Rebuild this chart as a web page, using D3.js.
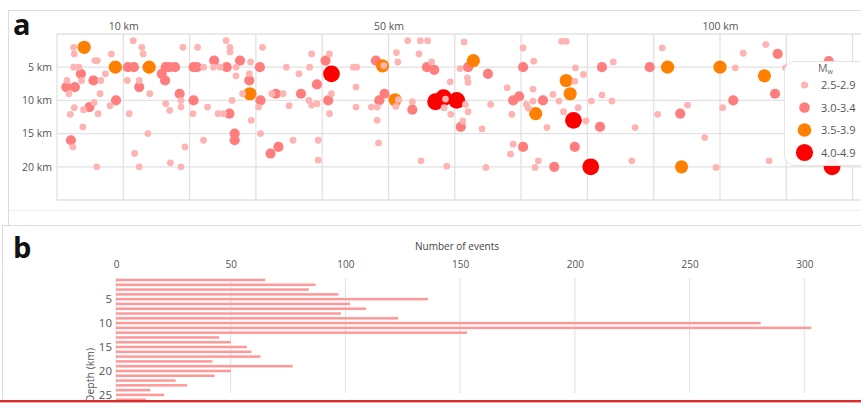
<!DOCTYPE html>
<html><head><meta charset="utf-8">
<script src="https://cdn.jsdelivr.net/npm/d3@7"></script>
<style>
html,body{margin:0;padding:0;background:#fff;overflow:hidden;}
svg{display:block;font-family:"Open Sans",sans-serif;}
</style>
</head><body>
<svg id="c" width="861" height="403"></svg>
<script>
// ---------- Panel a: epicentral distance (km) vs depth (km), by Mw class ----------
const distTicks = [10, 50, 100];
const depthTicksA = [5, 10, 15, 20];
const mwClasses = ["2.5-2.9", "3.0-3.4", "3.5-3.9", "4.0-4.9"];
// [distance km, depth km]
const mw25 = [
 [2.5,2],[2.6,3],[5.7,4],[6.1,4],[8.2,3],[2.5,5],[3.3,5],[1.5,7],[3.7,7],[6.6,7],[7.3,6],[1.8,9],[6.5,9],
 [8.0,10.8],[5.6,10.3],[4.0,11.4],[2.6,11.1],[2.0,12.1],[6.2,12],[3.9,14],[2.4,17],[6.0,20],
 [11.5,1],[12.8,2],[13.0,3],[10.6,7],[12.4,7],[14.0,9],[10.9,12],[13.7,15],[11.7,18],[12.4,20],
 [19.0,2],[18.7,10],[18.7,11],[16.4,10.5],[17.0,11.5],[19.3,17],[17.1,19.4],[18.7,20],[20.5,12],
 [21.2,2],[22.1,5],[22.7,11],[22.1,16],[24.3,12],[25.1,12],[23.6,5],[24.6,5],[25.5,1],[26.1,2],[26.1,2.7],
 [27.0,5],[27.0,6.3],[29.2,4.2],[29.0,6],[28.0,9],[26.4,10],[29.3,13],[30.7,15],[31.0,2],[30.4,11],
 [34.6,5],[32.4,9],[34.1,9],[35.0,10.8],[35.6,16],[36.5,6],[38.1,5],[38.4,3],[38.0,10],[38.4,10.7],
 [39.2,10.5],[39.4,16],[39.4,19],[41.1,12],[41.1,3],[41.4,9],[44.7,5],[45.2,5],[45.1,8],[45.1,11],
 [47.4,11],[48.3,11],[48.3,13],[48.5,16.4],[51.2,2.8],[51.4,4.2],[52.9,1],[54.8,1],[55.9,1],
 [54.6,3],[56.5,4.2],[51.1,10.9],[53.6,10.2],[54.9,19.1],[58.4,11.1],[59.4,12.1],[59.3,7.2],[58.8,19.9],
 [61.4,1.2],[60.8,5.2],[61.9,6.6],[62.0,7.3],[61.6,10.6],[62.0,11.7],[61.2,13.1],[64.1,14.3],[65.4,10.6],
 [64.7,20.1],[70.3,2.1],[71.9,4.1],[67.9,8.1],[70.8,10.6],[71.1,11.2],[71.8,8.3],[71.8,10.1],[68.6,12.1],
 [68.8,16.6],[68.4,18.1],[72.6,19.1],[72.1,20.1],[73.9,14.1],[74.8,9.1],[75.7,10.1],[76.4,11.7],
 [76.1,1.1],[76.8,1.1],[78.2,5.1],[79.4,6.1],[78.1,7.1],[78.6,11.1],[79.8,13.1],[80.6,10.1],[83.9,4.2],
 [82.2,9.2],[83.7,10.1],[87.2,14.1],[86.7,19.1],[91.3,2.1],[90.6,12.1],[95.1,10.7],[97.7,15.6],
 [99.4,20.1],[100.4,11.1],[102.3,5.1],[103.5,2.9],[106.9,1.6],[107.4,19.1],[109.9,5.1],
 [49.3,4.75],[51.5,9.9],[58.6,9.8]
];
const mw30 = [
 [3.6,6],[5.5,7],[1.4,8],[2.7,8],[8.9,10],[4.9,11],[2.1,16],[10.7,5],[11.6,5],[12.4,8],[16.4,5],[17.0,5],
 [17.8,5],[15.8,6],[16.3,7],[18.5,9],[20.6,5],[21.1,5],[20.6,10],[23.7,4],[25.6,5],[27.6,4],[29.0,7],
 [26.0,12],[26.8,15],[26.8,16],[30.6,5],[30.7,10],[32.2,18],[33.4,17],[33.0,9],[36.8,9],[39.2,7.6],
 [40.5,4],[40.9,10],[48.1,4],[49.4,9],[48.6,10],[53.6,11.4],[55.8,5],[56.9,5.4],[62.0,5],[60.9,14],
 [65.0,6],[70.3,5],[68.8,10],[69.7,9.4],[73.3,10],[70.3,17],[75.0,20],[78.1,17],[82.2,5],[81.9,14],
 [89.4,5],[94.0,12],[102.0,10],[108.7,3],[108.3,9],[116.4,4.1]
];
const mw35 = [
 [4.1,2],[8.8,5],[13.9,5],[29.1,9],[49.1,4.8],[51.0,9.9],[62.8,4],[72.2,12],[76.8,7],[77.4,9],
 [92.1,5],[100.0,5],[106.7,6.3],[94.2,20]
];
const mw40 = [
 [41.4,6],[57.1,10.2],[58.3,9.6],[60.3,10],[77.9,13],[80.5,20],[116.9,20]
];

// ---------- Panel b: number of events per 1-km depth bin ----------
const depthBins = [1,2,3,4,5,6,7,8,9,10,11,12,13,14,15,16,17,18,19,20,21,22,23,24,25,26];
const eventCounts = [65,87,84,97,136,102,109,98,123,281,303,153,45,50,57,59,63,42,77,50,43,26,31,15,21,13];
const countTicks = [0,50,100,150,200,250,300];
const depthTicksB = [5,10,15,20,25];

const svg = d3.select("#c");
const textCol = "#555";

// ---------- panel frames ----------
svg.append("rect").attr("x",8.5).attr("y",10.5).attr("width",870).attr("height",215)
  .attr("fill","none").attr("stroke","#dcdcdc");
svg.append("line").attr("x1",9).attr("x2",861).attr("y1",210.5).attr("y2",210.5).attr("stroke","#f0f0f0");
svg.append("rect").attr("x",2.5).attr("y",225.5).attr("width",870).attr("height",200)
  .attr("fill","none").attr("stroke","#dcdcdc");

svg.append("text").attr("x",13).attr("y",35).text("a")
  .attr("font-size",29).attr("font-weight",700).attr("fill","#111");
svg.append("text").attr("x",13).attr("y",258).text("b")
  .attr("font-size",29).attr("font-weight",700).attr("fill","#111");

// ---------- panel a ----------
const xA = d3.scaleLinear().domain([0,120]).range([57,852.6]);
const yA = d3.scaleLinear().domain([0,25]).range([34,200]);
const gA = svg.append("g");
gA.selectAll("line.vg").data(d3.range(0,121,10)).join("line")
  .attr("x1",d=>xA(d)).attr("x2",d=>xA(d)).attr("y1",yA(0)).attr("y2",yA(25))
  .attr("stroke","#e2e2e2").attr("stroke-width",1.3);
gA.selectAll("line.hg").data(d3.range(0,26,5)).join("line")
  .attr("x1",xA(0)).attr("x2",861).attr("y1",d=>yA(d)).attr("y2",d=>yA(d))
  .attr("stroke","#e2e2e2").attr("stroke-width",1.3);

const axTop = d3.axisTop(xA).tickValues(distTicks).tickSize(0).tickPadding(0).tickFormat(d=>d+" km");
gA.append("g").attr("transform","translate(0,30)").call(axTop)
  .call(g=>g.select(".domain").remove())
  .call(g=>g.selectAll("text").attr("fill",textCol).attr("font-size",10.5).attr("font-family","Open Sans"));
const axLeft = d3.axisLeft(yA).tickValues(depthTicksA).tickSize(0).tickPadding(5).tickFormat(d=>d+" km");
gA.append("g").attr("transform","translate(57,0)").call(axLeft)
  .call(g=>g.select(".domain").remove())
  .call(g=>g.selectAll("text").attr("fill",textCol).attr("font-size",10.5).attr("font-family","Open Sans"));

const cls = [
  {data:mw25, r:3.4, c:"#ffb4b4"},
  {data:mw30, r:5.1, c:"#ff7d7d"},
  {data:mw35, r:6.6, c:"#ff8000"},
  {data:mw40, r:8.4, c:"#ff0000"}
];
const drawOrder = [1,2,3,0];
drawOrder.forEach(i=>{
  gA.append("g").selectAll("circle").data(cls[i].data).join("circle")
    .attr("cx",d=>xA(d[0])).attr("cy",d=>yA(d[1])).attr("r",cls[i].r).attr("fill",cls[i].c);
});

// legend
const lg = svg.append("g");
lg.append("rect").attr("x",784.5).attr("y",61.5).attr("width",110).attr("height",104).attr("rx",10)
  .attr("fill","#fff").attr("fill-opacity",0.95).attr("stroke","#e4e4e4");
const lt = lg.append("text").attr("x",818).attr("y",72).attr("fill","#666").attr("font-size",10.5);
lt.append("tspan").text("M");
lt.append("tspan").attr("font-size",7).attr("dy",2).text("w");
const legY = d3.scalePoint().domain(mwClasses).range([85,152.5]);
mwClasses.forEach((m,i)=>{
  lg.append("circle").attr("cx",804.5).attr("cy",legY(m)).attr("r",cls[i].r+0.2).attr("fill",cls[i].c);
  lg.append("text").attr("x",821).attr("y",legY(m)+4).attr("fill",textCol).attr("font-size",11).text(m);
});

// ---------- panel b ----------
const xB = d3.scaleLinear().domain([0,300]).range([116,804.3]);
const yB = d3.scalePoint().domain(depthBins).range([280,399.7]);
const gB = svg.append("g");
gB.selectAll("line.bg").data(countTicks).join("line")
  .attr("x1",d=>xB(d)).attr("x2",d=>xB(d)).attr("y1",278).attr("y2",393)
  .attr("stroke","#e0e0e0").attr("stroke-width",1);
const axB = d3.axisTop(xB).tickValues(countTicks).tickSize(0).tickPadding(0);
gB.append("g").attr("transform","translate(0,268)").call(axB)
  .call(g=>g.select(".domain").remove())
  .call(g=>g.selectAll("text").attr("fill",textCol).attr("font-size",10).attr("font-family","Open Sans"));
gB.append("text").attr("x",457).attr("y",250).attr("text-anchor","middle")
  .attr("fill","#444").attr("font-size",10).text("Number of events");

gB.selectAll("rect.bar").data(depthBins).join("rect")
  .attr("x",xB(0)).attr("y",d=>yB(d)-1.25).attr("height",2.5)
  .attr("width",(d,i)=>xB(eventCounts[i])-xB(0)).attr("fill","#ff9898");

const axBL = d3.axisLeft(yB).tickValues(depthTicksB).tickSize(0).tickPadding(4);
gB.append("g").attr("transform","translate(112,0)").call(axBL)
  .call(g=>g.select(".domain").remove())
  .call(g=>g.selectAll("text").attr("fill",textCol).attr("font-size",11.5).attr("font-family","Open Sans").attr("dx",4));
gB.append("text").attr("transform","translate(94,375) rotate(-90)").attr("text-anchor","middle")
  .attr("fill",textCol).attr("font-size",10.5).text("Depth (km)");

// bottom red rule
svg.append("rect").attr("x",0).attr("y",400).attr("width",861).attr("height",2.4).attr("fill","#d2312e");
</script>
</body></html>
